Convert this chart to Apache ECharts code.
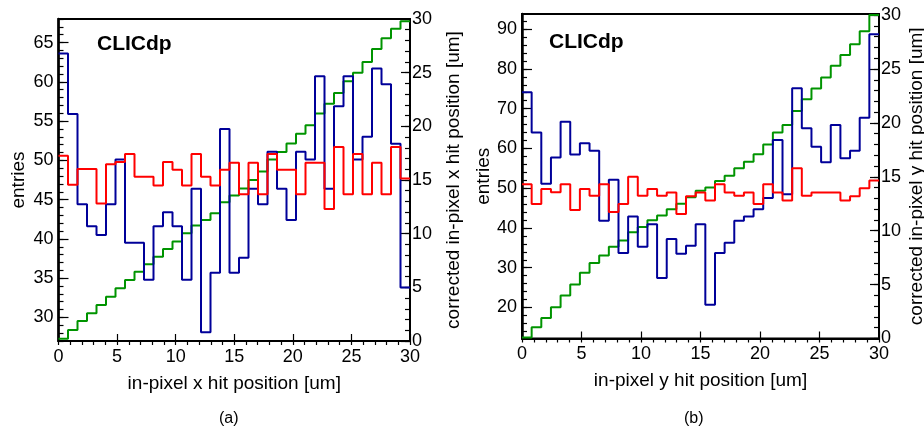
<!DOCTYPE html>
<html>
<head>
<meta charset="utf-8">
<script src="https://cdn.jsdelivr.net/npm/echarts@6/dist/echarts.min.js"></script>
<style>
html,body{margin:0;padding:0;background:#fff;}
#chart{width:924px;height:431px;}
</style>
</head>
<body>
<div id="chart"></div>
<script>
// ---------------- data ----------------
const xRange = [0, 30];           // in-pixel position range [um]
// (a) in-pixel x
const xEntriesBlue = [63.6, 55.9, 44.4, 41.6, 40.5, 44.4, 50.1, 39.5, 39.5, 34.8, 41.6, 43.4, 41.6, 34.8, 46.4, 28.1, 35.7, 54.0, 35.7, 37.6, 46.4, 44.4, 51.1, 46.4, 42.4, 51.1, 50.1, 60.7, 46.4, 56.9, 60.7, 50.1, 53.0, 61.7, 59.7, 52.1, 33.8];
const xEntriesRed = [50.6, 46.9, 48.9, 48.9, 44.5, 49.5, 49.8, 50.8, 47.9, 47.9, 46.8, 49.8, 48.8, 46.8, 50.8, 47.9, 46.8, 48.8, 49.7, 45.7, 49.7, 45.7, 50.8, 48.8, 48.8, 45.7, 49.7, 49.7, 43.8, 51.7, 45.7, 50.8, 45.7, 49.7, 45.7, 51.7, 47.7];
const xCorrectedGreen = [0.2, 1.03, 1.86, 2.58, 3.36, 4.13, 4.91, 5.69, 6.46, 7.15, 7.86, 8.57, 9.26, 10.04, 10.75, 11.28, 11.9, 12.93, 13.55, 14.2, 15.0, 15.8, 16.9, 17.6, 18.4, 19.3, 20.1, 21.2, 22.1, 23.1, 24.2, 25.0, 26.0, 27.2, 28.2, 29.1, 29.8];
// (b) in-pixel y
const yEntriesBlue = [74.1, 64.0, 51.1, 57.7, 66.7, 58.5, 61.3, 59.4, 41.8, 52.1, 33.7, 42.9, 35.3, 40.9, 27.4, 37.2, 33.5, 35.5, 40.9, 20.7, 33.7, 36.3, 41.8, 42.9, 44.7, 47.5, 62.1, 48.5, 75.1, 65.1, 60.4, 56.5, 65.9, 57.5, 59.4, 67.7, 88.7];
const yEntriesRed = [51.0, 46.0, 49.8, 49.0, 51.0, 44.5, 49.8, 48.1, 51.0, 44.0, 46.0, 52.9, 48.1, 49.8, 48.1, 48.9, 43.5, 48.0, 48.9, 46.9, 51.0, 48.9, 48.1, 48.9, 46.0, 51.0, 48.9, 46.9, 55.0, 48.1, 48.9, 48.9, 48.9, 46.9, 48.0, 50.0, 51.9];
const yCorrectedGreen = [0.1, 1.05, 1.9, 2.9, 4.0, 5.0, 6.1, 7.0, 7.7, 8.5, 9.1, 9.85, 10.35, 10.96, 11.4, 12.0, 12.5, 13.1, 13.7, 14.0, 14.6, 15.1, 15.8, 16.4, 17.1, 18.0, 19.1, 19.8, 21.1, 22.2, 23.2, 24.2, 25.3, 26.3, 27.3, 28.5, 30.0];

// axis texts / tick labels
const xTickLabels = [0, 5, 10, 15, 20, 25, 30];
const leftEntriesTicksA = [30, 35, 40, 45, 50, 55, 60, 65];
const leftEntriesTicksB = [20, 30, 40, 50, 60, 70, 80, 90];
const correctedTicks = [0, 5, 10, 15, 20, 25, 30];
const titleA_x = 'in-pixel x hit position [um]';
const titleB_x = 'in-pixel y hit position [um]';
const titleA_y2 = 'corrected in-pixel x hit position [um]';
const titleB_y2 = 'corrected in-pixel y hit position [um]';

// ---------------- helpers ----------------
function histData(vals) {
  const w = (xRange[1] - xRange[0]) / vals.length;
  const d = vals.map((v, i) => [xRange[0] + i * w, v]);
  d.push([xRange[1], vals[vals.length - 1]]);
  return d;
}
function steps(a, b, s) { const r = []; for (let v = a; v <= b + 1e-9; v += s) r.push(+v.toFixed(6)); return r; }

const FONT = 'Liberation Sans';
const BLUE = '#000099', RED = '#ff0000', GREEN = '#009400';

function xAxisCfg(gi, name) {
  return {
    type: 'value', gridIndex: gi, min: xRange[0], max: xRange[1],
    axisLine: { show: true, lineStyle: { color: '#000', width: 2 } },
    axisTick: { show: true, inside: true, length: 7, lineStyle: { color: '#000', width: 1.2 }, customValues: xTickLabels },
    minorTick: { show: false },
    axisLabel: { color: '#000', fontFamily: FONT, fontSize: 18, margin: 7, customValues: xTickLabels },
    splitLine: { show: false },
    name: name, nameLocation: 'middle', nameGap: 33,
    nameTextStyle: { color: '#000', fontFamily: FONT, fontSize: 19 }
  };
}
function xMinorCfg(gi) {
  return {
    type: 'value', gridIndex: gi, min: xRange[0], max: xRange[1],
    axisLine: { show: false },
    axisTick: { show: true, inside: true, length: 4, lineStyle: { color: '#000', width: 1.2 }, customValues: steps(0, 30, 1) },
    axisLabel: { show: false }, splitLine: { show: false }
  };
}
function yMainCfg(gi, mn, mx, ticks, name, gap) {
  return {
    type: 'value', gridIndex: gi, min: mn, max: mx, position: 'left',
    axisLine: { show: true, lineStyle: { color: '#000', width: 2.5 } },
    axisTick: { show: true, inside: true, length: 10, lineStyle: { color: '#000', width: 1.2 }, customValues: ticks },
    axisLabel: { color: '#000', fontFamily: FONT, fontSize: 18, margin: 5, customValues: ticks },
    splitLine: { show: false },
    name: name, nameLocation: 'middle', nameRotate: 90, nameGap: gap,
    nameTextStyle: { color: '#000', fontFamily: FONT, fontSize: 19 }
  };
}
function yMinorCfg(gi, mn, mx, ticks) {
  return {
    type: 'value', gridIndex: gi, min: mn, max: mx, position: 'left',
    axisLine: { show: false },
    axisTick: { show: true, inside: true, length: 5, lineStyle: { color: '#000', width: 1.2 }, customValues: ticks },
    axisLabel: { show: false }, splitLine: { show: false }
  };
}
function y2Cfg(gi, mx, name, gap) {
  return {
    type: 'value', gridIndex: gi, min: 0, max: mx, position: 'right',
    axisLine: { show: true, lineStyle: { color: '#000', width: 2 } },
    axisTick: { show: true, inside: true, length: 9, lineStyle: { color: '#000', width: 1.2 }, customValues: correctedTicks },
    axisLabel: { color: '#000', fontFamily: FONT, fontSize: 18, margin: 2, customValues: correctedTicks },
    splitLine: { show: false },
    name: name, nameLocation: 'middle', nameRotate: 90, nameGap: gap,
    nameTextStyle: { color: '#000', fontFamily: FONT, fontSize: 19 }
  };
}
function y2MinorCfg(gi, mx) {
  return {
    type: 'value', gridIndex: gi, min: 0, max: mx, position: 'right',
    axisLine: { show: false },
    axisTick: { show: true, inside: true, length: 5, lineStyle: { color: '#000', width: 1.2 }, customValues: steps(0, 30, 1) },
    axisLabel: { show: false }, splitLine: { show: false }
  };
}
function hist(name, vals, xi, yi, color) {
  return {
    name: name, type: 'line', step: 'end', data: histData(vals),
    xAxisIndex: xi, yAxisIndex: yi, showSymbol: false, symbol: 'none',
    lineStyle: { color: color, width: 2 }, itemStyle: { color: color },
    clip: true, animation: false, silent: true
  };
}

const chart = echarts.init(document.getElementById('chart'), null, { renderer: 'canvas' });
chart.setOption({
  backgroundColor: '#fff',
  animation: false,
  grid: [
    { left: 58.5, top: 19, width: 351.5, height: 322, show: true, borderColor: '#000', borderWidth: 2, backgroundColor: 'transparent', outerBoundsMode: 'none', containLabel: false },
    { left: 522, top: 14, width: 357, height: 324.5, show: true, borderColor: '#000', borderWidth: 2, backgroundColor: 'transparent', outerBoundsMode: 'none', containLabel: false }
  ],
  xAxis: [ xAxisCfg(0, titleA_x), xMinorCfg(0), xAxisCfg(1, titleB_x), xMinorCfg(1) ],
  yAxis: [
    yMainCfg(0, 27, 68, leftEntriesTicksA, 'entries', 30),        // 0
    yMinorCfg(0, 27, 68, steps(27, 68, 1)),                        // 1
    y2Cfg(0, 30, titleA_y2, 34),                                   // 2
    y2MinorCfg(0, 30),                                             // 3
    yMainCfg(1, 12.2, 93.8, leftEntriesTicksB, 'entries', 27),     // 4
    yMinorCfg(1, 12.2, 93.8, steps(14, 92, 2)),                    // 5
    y2Cfg(1, 30.1, titleB_y2, 28),                                 // 6
    y2MinorCfg(1, 30.1)                                            // 7
  ],
  series: [
    hist('x corrected', xCorrectedGreen, 0, 2, GREEN),
    hist('x entries blue', xEntriesBlue, 0, 0, BLUE),
    hist('x entries red', xEntriesRed, 0, 0, RED),
    hist('y corrected', yCorrectedGreen, 2, 6, GREEN),
    hist('y entries blue', yEntriesBlue, 2, 4, BLUE),
    hist('y entries red', yEntriesRed, 2, 4, RED)
  ],
  graphic: [
    { type: 'text', left: 97, top: 34, style: { text: 'CLICdp', font: 'bold 21px "Liberation Sans"', fill: '#000' } },
    { type: 'text', left: 549, top: 32, style: { text: 'CLICdp', font: 'bold 21px "Liberation Sans"', fill: '#000' } },
    { type: 'text', left: 219, top: 411, style: { text: '(a)', font: '16px "Liberation Sans"', fill: '#000' } },
    { type: 'text', left: 684, top: 411, style: { text: '(b)', font: '16px "Liberation Sans"', fill: '#000' } }
  ]
});
</script>
</body>
</html>
